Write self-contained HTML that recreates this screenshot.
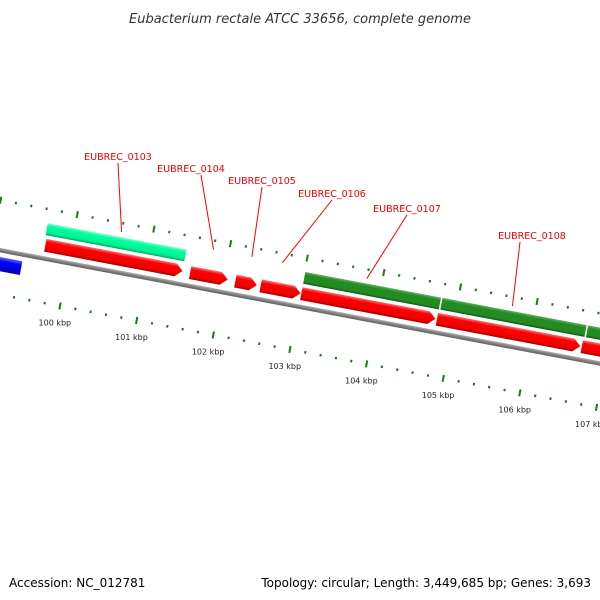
<!DOCTYPE html>
<html><head><meta charset="utf-8">
<style>
html,body{margin:0;padding:0;background:#fff;}
svg{display:block;}
text{font-family:"DejaVu Sans","Liberation Sans",sans-serif;}
</style></head>
<body>
<svg id="chart" width="600" height="600" viewBox="0 0 600 600" xmlns="http://www.w3.org/2000/svg">
<defs>
<linearGradient id="gRed" x1="0" y1="0" x2="0" y2="1">
<stop offset="0" stop-color="#ff7070"/><stop offset="0.25" stop-color="#ff0000"/><stop offset="0.8" stop-color="#ee0000"/><stop offset="1" stop-color="#a00000"/></linearGradient>
<linearGradient id="gTeal" x1="0" y1="0" x2="0" y2="1">
<stop offset="0" stop-color="#80ffd0"/><stop offset="0.25" stop-color="#00ffa0"/><stop offset="0.8" stop-color="#00f090"/><stop offset="1" stop-color="#00a060"/></linearGradient>
<linearGradient id="gGreen" x1="0" y1="0" x2="0" y2="1">
<stop offset="0" stop-color="#60b060"/><stop offset="0.25" stop-color="#228b22"/><stop offset="0.8" stop-color="#228b22"/><stop offset="1" stop-color="#145214"/></linearGradient>
<linearGradient id="gBlue" x1="0" y1="0" x2="0" y2="1">
<stop offset="0" stop-color="#6060ff"/><stop offset="0.3" stop-color="#0000ff"/><stop offset="1" stop-color="#0000b0"/></linearGradient>
<linearGradient id="gGray" x1="0" y1="0" x2="0" y2="1">
<stop offset="0" stop-color="#b0b0b0"/><stop offset="0.5" stop-color="#808080"/><stop offset="1" stop-color="#606060"/></linearGradient>
</defs>
<text x="300" y="23" text-anchor="middle" font-size="13" font-style="italic" fill="#333">Eubacterium rectale ATCC 33656, complete genome</text>
<g id="track" transform="translate(60,306) rotate(10.7)"></g>
<g id="labels"></g>
<text x="9" y="587" font-size="12" fill="#000">Accession: NC_012781</text>
<text x="591" y="587" font-size="12" text-anchor="end" fill="#000">Topology: circular; Length: 3,449,685 bp; Genes: 3,693</text>
</svg>
<script>
// data
const geneStarts = [99.67, 101.56, 102.15, 102.48, 103.01, 104.78, 106.67, 99.65, 103.01, 104.80, 106.70, 98.5];
const geneEnds   = [101.46, 102.05, 102.43, 103.00, 104.76, 106.65, 108.2, 101.46, 104.78, 106.68, 108.2, 99.42];
const geneTracks = ["fwd","fwd","fwd","fwd","fwd","fwd","fwd","cds","cds","cds","cds","rev"];
const geneColors = ["red","red","red","red","red","red","red","teal","green","green","green","blue"];
const tickStart = 99.0, tickEnd = 107.4, tickStep = 0.2;
const labelNames = ["EUBREC_0103","EUBREC_0104","EUBREC_0105","EUBREC_0106","EUBREC_0107","EUBREC_0108"];
const labelGenePos = [100.6, 101.8, 102.3, 102.7, 103.8, 105.7];

const NS = "http://www.w3.org/2000/svg";
const pxPerKbp = 78, origin = 100;
function U(p){ return (p - origin) * pxPerKbp; }
const ang = 10.7 * Math.PI / 180, ca = Math.cos(ang), sa = Math.sin(ang);
function toScreen(u, v){ return [60 + u*ca - v*sa, 306 + u*sa + v*ca]; }
const trackV = {fwd:[-63.5,-50.5], cds:[-79,-67], rev:[-37,-23]};
const fills = {red:"url(#gRed)", teal:"url(#gTeal)", green:"url(#gGreen)", blue:"url(#gBlue)"};
const track = document.getElementById("track");
const labels = document.getElementById("labels");

// backbone
const bb = document.createElementNS(NS, "rect");


bb.setAttribute("x", U(99.0)); bb.setAttribute("y", -46);
bb.setAttribute("width", U(108) - U(99)); bb.setAttribute("height", 4.5);
bb.setAttribute("fill", "url(#gGray)");
track.appendChild(bb);

// genes
for (let i = 0; i < geneStarts.length; i++) {
  const x0 = U(geneStarts[i]), x1 = U(geneEnds[i]);
  const [t, b] = trackV[geneTracks[i]];
  const p = document.createElementNS(NS, "path");
  let d;
  if (geneTracks[i] === "fwd") {
    const tip = Math.min(7, (x1 - x0) / 2);
    d = `M${x0},${t} L${x1-tip},${t} L${x1},${(t+b)/2} L${x1-tip},${b} L${x0},${b} Z`;
  } else {
    d = `M${x0},${t} L${x1},${t} L${x1},${b} L${x0},${b} Z`;
  }
  p.setAttribute("d", d);
  p.setAttribute("fill", fills[geneColors[i]]);
  
  
  track.appendChild(p);
}

// ticks (inner and outer rings)
const nTicks = Math.round((tickEnd - tickStart) / tickStep);
for (let k = 0; k <= nTicks; k++) {
  const pos = tickStart + k * tickStep;
  const major = Math.abs(pos - Math.round(pos)) < 1e-6;
  [0, -93].forEach(v => {
    const r = document.createElementNS(NS, "rect");
    const h = major ? 7 : 2.5;
    r.setAttribute("x", U(pos) - 1); r.setAttribute("y", v - h/2);
    r.setAttribute("width", 2); r.setAttribute("height", h);
    r.setAttribute("fill", "#1a7a1a");
    
    
    track.appendChild(r);
  });
  if (major) {
    const [sx, sy] = toScreen(U(pos), 17);
    const tx = document.createElementNS(NS, "text");
    tx.setAttribute("x", sx - 2); tx.setAttribute("y", sy + 3);
    tx.setAttribute("text-anchor", "middle");
    tx.setAttribute("font-size", "8");
    tx.setAttribute("fill", "#222");
    tx.textContent = Math.round(pos) + " kbp";
    
    
    labels.appendChild(tx);
  }
}

// gene labels with leader lines
const labelPos = [[118,156],[191,168],[262,180],[332,193],[407,208],[532,235]];
for (let i = 0; i < labelNames.length; i++) {
  const [lx, ly] = labelPos[i];
  const [gx, gy] = toScreen(U(labelGenePos[i]), -84);
  const ln = document.createElementNS(NS, "line");
  ln.setAttribute("x1", lx + (i===1?10:(i===5?-12:0))); ln.setAttribute("y1", ly + 7);
  ln.setAttribute("x2", gx); ln.setAttribute("y2", gy);
  ln.setAttribute("stroke", "#ff0000"); ln.setAttribute("stroke-width", "1");
  
  
  labels.appendChild(ln);
  const t = document.createElementNS(NS, "text");
  t.setAttribute("x", lx); t.setAttribute("y", ly + 4);
  t.setAttribute("text-anchor", "middle");
  t.setAttribute("font-size", "9.5");
  t.setAttribute("fill", "#ee0000");
  t.textContent = labelNames[i];
  
  
  labels.appendChild(t);
}
</script>
</body></html>
